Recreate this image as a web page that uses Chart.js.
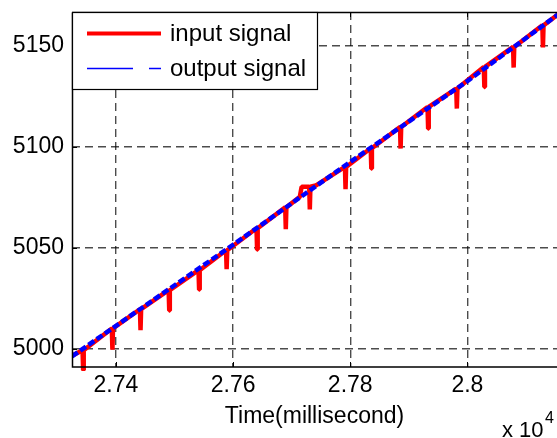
<!DOCTYPE html>
<html>
<head>
<meta charset="utf-8">
<script src="https://cdn.jsdelivr.net/npm/chart.js"></script>
<style>
  body { margin: 0; background: #fff; }
  #wrap { width: 557px; height: 438px; }
</style>
</head>
<body>
<div id="wrap"><canvas id="signal-chart" width="557" height="438"></canvas></div>
<script>
const xTicks = [27400, 27600, 27800, 28000];
const xTickLabels = ["2.74", "2.76", "2.78", "2.8"];
const yTicks = [5000, 5050, 5100, 5150];
const legendLabels = ["input signal", "output signal"];

// input signal (ms, value), spikes included
const inputTime = [
  27325, 27343, 27344, 27345, 27393, 27394, 27395, 27441, 27442, 27443,
  27490, 27491, 27492, 27541, 27542, 27543, 27588, 27589, 27590, 27640,
  27641, 27642, 27689, 27690, 27691, 27714, 27717, 27730, 27731, 27732,
  27741, 27791, 27792, 27793, 27835, 27836, 27837, 27885, 27886, 27887,
  27932, 27933, 27934, 27981, 27982, 27983, 28028, 28029, 28030, 28078,
  28079, 28080, 28128, 28129, 28130, 28155
];
const inputValue = [
  4996.5, 4999.3, 4989.5, 4999.3, 5010.1, 4999.6, 5010.1, 5019.6, 5009.2, 5019.6,
  5029.0, 5019.0, 5029.0, 5038.9, 5029.3, 5038.9, 5048.8, 5039.4, 5048.8, 5059.7,
  5049.1, 5059.7, 5070.0, 5059.2, 5070.0, 5075.3, 5080.2, 5080.2, 5069.0, 5080.2,
  5080.8, 5090.0, 5079.0, 5090.0, 5099.3, 5089.2, 5099.3, 5109.8, 5099.1, 5109.8,
  5119.7, 5109.0, 5119.7, 5128.8, 5118.9, 5128.8, 5139.5, 5129.6, 5139.5, 5149.4,
  5139.2, 5149.4, 5160.1, 5149.1, 5160.1, 5165.5
];

// output signal
const outputTime = [27325, 27600, 27800, 28000, 28155];
const outputValue = [4996.3, 5051.5, 5092.5, 5132.5, 5165.5];

const toPoints = (xs, ys) => xs.map((x, i) => ({x: x, y: ys[i]}));

const FONT = "'Liberation Sans', Arial, sans-serif";

// matlab style box, inner ticks, legend and the x10^4 exponent
const matlabPlugin = {
  id: "matlabBox",
  afterDraw(chart) {
    const ctx = chart.ctx;
    const a = chart.chartArea;
    const xs = chart.scales.x;
    const ys = chart.scales.y;
    ctx.save();
    ctx.strokeStyle = "#000";
    ctx.lineWidth = 1;
    ctx.beginPath();
    xTicks.forEach(function(v){
      let px = Math.round(xs.getPixelForValue(v)) + 0.5;
      ctx.moveTo(px, a.bottom); ctx.lineTo(px, a.bottom - 5);
      ctx.moveTo(px, a.top); ctx.lineTo(px, a.top + 5);
    });
    yTicks.forEach(function(v){
      let py = Math.round(ys.getPixelForValue(v)) + 0.5;
      ctx.moveTo(a.left, py); ctx.lineTo(a.left + 5, py);
    });
    ctx.stroke();

    ctx.lineWidth = 1.5;
    ctx.beginPath();
    ctx.moveTo(a.left + 0.5, a.top + 0.5);
    ctx.lineTo(a.left + 0.5, a.bottom);
    ctx.lineTo(a.right + 2, a.bottom);
    ctx.moveTo(a.left, a.top + 0.5);
    ctx.lineTo(a.right + 2, a.top + 0.5);
    ctx.stroke();

    // legend
    ctx.fillStyle = "#fff";
    ctx.fillRect(a.left + 1, a.top, 245, 77);
    ctx.lineWidth = 1.2;
    ctx.strokeRect(a.left + 0.5, a.top + 0.5, 245, 77);

    ctx.strokeStyle = "#ff0000";
    ctx.lineWidth = 4;
    ctx.beginPath();
    ctx.moveTo(87, 33.5); ctx.lineTo(161, 33.5);
    ctx.stroke();

    ctx.strokeStyle = "#0000ff";
    ctx.lineWidth = 1.3;
    ctx.setLineDash([46, 16]);
    ctx.beginPath();
    ctx.moveTo(87, 68.5); ctx.lineTo(161, 68.5);
    ctx.stroke();
    ctx.setLineDash([]);

    ctx.fillStyle = "#000";
    ctx.font = "24px " + FONT;
    ctx.textAlign = "left";
    ctx.textBaseline = "alphabetic";
    ctx.fillText(legendLabels[0], 170, 41);
    ctx.fillText(legendLabels[1], 170, 76);

    // exponent label
    ctx.font = "22px " + FONT;
    ctx.fillText("x 10", 502, 437);
    ctx.font = "16px " + FONT;
    ctx.fillText("4", 545, 423);
    ctx.restore();
  }
};

function createChart() {
  let ctx = document.getElementById("signal-chart");
  new Chart(ctx, {
    type: "line",
    data: {
      datasets: [
        {
          label: legendLabels[0],
          data: toPoints(inputTime, inputValue),
          borderColor: "#ff0000",
          borderWidth: 4.5,
          borderJoinStyle: "bevel",
          pointRadius: 0,
          tension: 0,
          fill: false,
          order: 2,
          clip: {left: 0, top: 0, right: 0, bottom: 4}
        },
        {
          label: legendLabels[1],
          data: toPoints(outputTime, outputValue),
          borderColor: "#0000ff",
          borderWidth: 4.5,
          borderDash: [7, 3],
          pointRadius: 0,
          tension: 0,
          fill: false,
          order: 1
        }
      ]
    },
    options: {
      responsive: false,
      animation: false,
      devicePixelRatio: 1,
      layout: { padding: { top: 12, left: 0, right: 0, bottom: 0 } },
      plugins: {
        legend: { display: false },
        tooltip: { enabled: false }
      },
      scales: {
        x: {
          type: "linear",
          min: 27325,
          max: 28153,
          afterBuildTicks: function(scale){
            scale.ticks = xTicks.map(v => ({value: v}));
          },
          afterFit: function(scale){
            scale.height = 71;
            scale.paddingLeft = 0;
            scale.paddingRight = 0;
          },
          grid: { color: "rgba(0,0,0,0.7)", lineWidth: 1.4, drawTicks: false },
          border: { display: false, dash: [8, 5] },
          ticks: {
            autoSkip: false,
            maxRotation: 0,
            padding: 5,
            color: "#000",
            font: { family: FONT, size: 23 },
            callback: function(value){
              let i = xTicks.indexOf(value);
              return i >= 0 ? xTickLabels[i] : "";
            }
          },
          title: {
            display: true,
            text: "Time(millisecond)",
            color: "#000",
            font: { family: FONT, size: 23 },
            padding: { top: 0, bottom: 8 }
          }
        },
        y: {
          type: "linear",
          min: 4991,
          max: 5166.7,
          afterBuildTicks: function(scale){
            scale.ticks = yTicks.map(v => ({value: v}));
          },
          afterFit: function(scale){
            scale.width = 72;
            scale.paddingTop = 0;
            scale.paddingBottom = 0;
          },
          grid: { color: "rgba(0,0,0,0.7)", lineWidth: 1.4, drawTicks: false },
          border: { display: false, dash: [8, 5] },
          ticks: {
            autoSkip: false,
            padding: 8,
            color: "#000",
            font: { family: FONT, size: 23 },
            callback: function(value){ return String(value); }
          }
        }
      }
    },
    plugins: [matlabPlugin]
  });
}

createChart();
</script>
</body>
</html>
